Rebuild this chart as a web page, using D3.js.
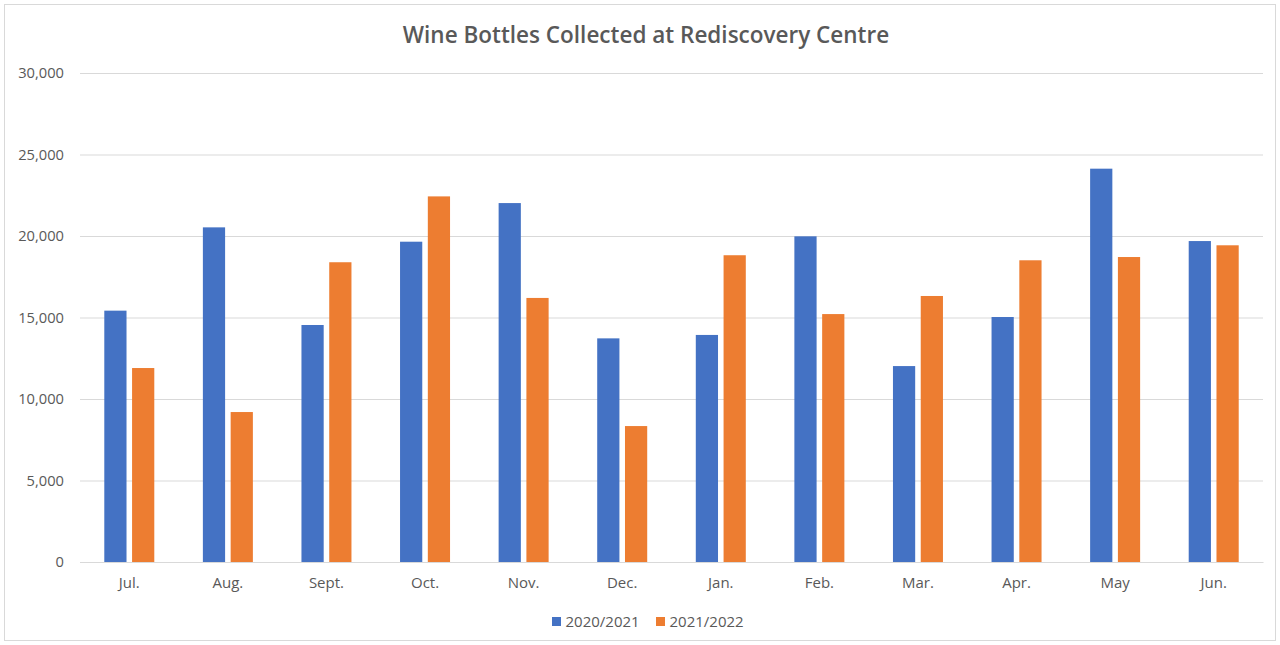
<!DOCTYPE html>
<html><head><meta charset="utf-8">
<script src="https://cdn.jsdelivr.net/npm/d3@7"></script>
<style>body{margin:0;background:#fff;}svg{display:block;}</style>
</head><body>
<svg id="c" width="1280" height="645"></svg>
<script>
const months = ["Jul.","Aug.","Sept.","Oct.","Nov.","Dec.","Jan.","Feb.","Mar.","Apr.","May","Jun."];
const seriesNames = ["2020/2021","2021/2022"];
const values2020 = [15420,20530,14540,19650,22020,13720,13930,19980,12020,15030,24130,19690];
const values2021 = [11900,9200,18390,22430,16200,8340,18820,15210,16320,18510,18710,19430];
const yTicks = [0,5000,10000,15000,20000,25000,30000];
const colors = ["#4472C4","#ED7D31"];

const svg = d3.select("#c");
const font = "'Open Sans', 'Liberation Sans', sans-serif";
svg.append("rect").attr("x",4.5).attr("y",4.5).attr("width",1271).attr("height",636)
  .attr("fill","#fff").attr("stroke","#d9d9d9");

const L=80,R=1263,T=73,B=562;
const x0 = d3.scaleBand().domain(months).range([L,R]).padding(0);
const y = d3.scaleLinear().domain([0,30000]).range([B,T]);
const half = 25;
const x1 = d3.scaleBand().domain(seriesNames).range([x0.bandwidth()/2-half, x0.bandwidth()/2+half]).paddingInner(0.2);

svg.append("text").attr("x",646).attr("y",43).attr("text-anchor","middle")
  .attr("font-family",font).attr("font-weight",600).attr("font-size",22.5).attr("fill","#595959")
  .text("Wine Bottles Collected at Rediscovery Centre");

const yAxis = d3.axisLeft(y).tickValues(yTicks).tickSize(-(R-L)).tickFormat(d3.format(","));
const gy = svg.append("g").attr("transform",`translate(${L},0)`).call(yAxis);
gy.select(".domain").remove();
gy.selectAll(".tick line").attr("stroke","#d9d9d9").attr("stroke-width",1.2);
gy.selectAll(".tick text").attr("x",-16).attr("font-family",font).attr("font-size",14.7).attr("fill","#595959");

const data = months.map((m,i)=>({m, vals:[values2020[i],values2021[i]]}));
const groups = svg.append("g").selectAll("g").data(data).join("g")
  .attr("transform",d=>`translate(${x0(d.m)},0)`);
groups.selectAll("rect").data(d=>d.vals.map((v,j)=>({s:seriesNames[j],v,j}))).join("rect")
  .attr("x",d=>x1(d.s)).attr("width",x1.bandwidth())
  .attr("y",d=>y(d.v)).attr("height",d=>y(0)-y(d.v))
  .attr("fill",d=>colors[d.j]);

const xAxis = d3.axisBottom(x0).tickSize(0).tickPadding(15);
const gx = svg.append("g").attr("transform",`translate(0,${B})`).call(xAxis);
gx.select(".domain").attr("stroke","#d9d9d9").attr("stroke-width",1.2);
gx.selectAll(".tick text").attr("font-family",font).attr("font-size",15).attr("fill","#595959");

const leg = svg.append("g");
const legX = [552,656];
seriesNames.forEach((s,i)=>{
  leg.append("rect").attr("x",legX[i]).attr("y",617).attr("width",9).attr("height",9).attr("fill",colors[i]);
  leg.append("text").attr("x",legX[i]+13.5).attr("y",627).attr("font-family",font).attr("font-size",15)
    .attr("fill","#595959").text(s);
});
</script>
</body></html>
